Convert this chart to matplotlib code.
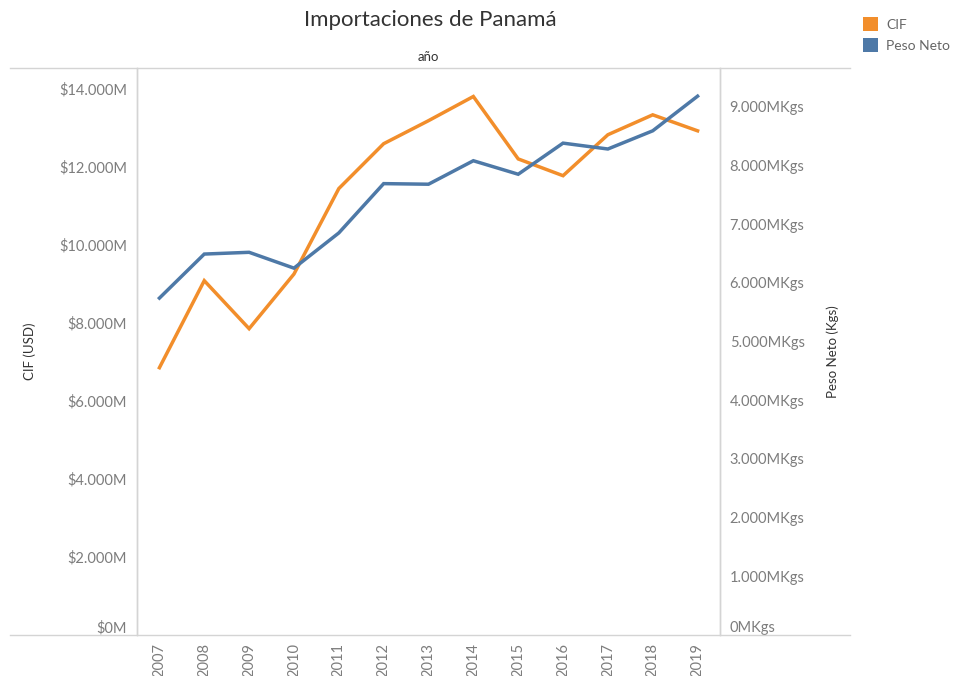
import matplotlib
matplotlib.use("Agg")
import matplotlib.pyplot as plt
from matplotlib.lines import Line2D
from matplotlib.patches import Patch
from matplotlib.ticker import FuncFormatter

plt.rcParams['font.family'] = ['Lato', 'DejaVu Sans']

years = [2007, 2008, 2009, 2010, 2011, 2012, 2013, 2014, 2015, 2016, 2017, 2018, 2019]
cif_musd = [6850, 9080, 7850, 9250, 11440, 12590, 13180, 13800, 12200, 11770, 12820, 13330, 12920]
peso_mkgs = [5740, 6490, 6520, 6250, 6850, 7690, 7680, 8080, 7850, 8380, 8280, 8590, 9180]
left_ticks = [0, 2000, 4000, 6000, 8000, 10000, 12000, 14000]
right_ticks = [0, 1000, 2000, 3000, 4000, 5000, 6000, 7000, 8000, 9000]

C_ORANGE = '#F28E2B'
C_BLUE = '#4E79A7'
GRID = '#d4d4d4'
TICK = '#7d7d7d'

W, H = 955, 676
fig = plt.figure(figsize=(W / 100, H / 100), dpi=100)
x0, x1, y_top, y_bot = 137, 720, 68, 635
ax = fig.add_axes([x0 / W, (H - y_bot) / H, (x1 - x0) / W, (y_bot - y_top) / H])
ax2 = ax.twinx()

ax.plot(years, cif_musd, color=C_ORANGE, lw=2.5, solid_joinstyle='miter', zorder=3)
ax2.plot(years, peso_mkgs, color=C_BLUE, lw=2.5, solid_joinstyle='miter', zorder=3)

ax.set_xlim(2006.5, 2019.5)
ax.set_ylim(0, 14530)
ax2.set_ylim(0, 9660)

ax.set_yticks(left_ticks)
ax2.set_yticks(right_ticks)
ax.yaxis.set_major_formatter(FuncFormatter(lambda v, p: '$0M' if v == 0 else '${:,.0f}M'.format(v).replace(',', '.')))
ax2.yaxis.set_major_formatter(FuncFormatter(lambda v, p: '0MKgs' if v == 0 else '{:,.0f}MKgs'.format(v).replace(',', '.')))
ax.set_xticks(years)
ax.set_xticklabels([str(y) for y in years], rotation=90, va='top', ha='center')

ax.tick_params(axis='y', length=0, pad=7, labelsize=10.5, labelcolor=TICK)
ax2.tick_params(axis='y', length=0, pad=7, labelsize=10.5, labelcolor=TICK)
ax.tick_params(axis='x', length=0, pad=6, labelsize=10.5, labelcolor=TICK)

fig.canvas.draw()
for lab in ax.get_yticklabels():
    if lab.get_text() == '$0M':
        lab.set_va('bottom')
for lab in ax2.get_yticklabels():
    if lab.get_text() == '0MKgs':
        lab.set_va('bottom')

for a in (ax, ax2):
    for s in ('top', 'bottom'):
        a.spines[s].set_visible(False)
    a.spines['left'].set_color(GRID)
    a.spines['right'].set_color(GRID)
    a.spines['left'].set_linewidth(1)
    a.spines['right'].set_linewidth(1)
    a.patch.set_visible(False)

# horizontal frame lines
fig.add_artist(Line2D([10 / W, 850 / W], [(H - y_top) / H] * 2, color=GRID, lw=1))
fig.add_artist(Line2D([10 / W, 850 / W], [(H - y_bot) / H] * 2, color=GRID, lw=1))

ax.set_ylabel('CIF (USD)', fontsize=9.5, color='#333333')
ax2.set_ylabel('Peso Neto (Kgs)', fontsize=9.5, color='#333333')
ax.yaxis.set_label_coords((36 - x0) / (x1 - x0), 0.5)
ax2.yaxis.set_label_coords((826 - x0) / (x1 - x0), 0.5)

fig.text(430 / W, 1 - 20 / H, 'Importaciones de Panamá', ha='center', va='center',
         fontsize=16, color='#333333')
fig.text(428 / W, 1 - 57 / H, 'año', ha='center', va='center', fontsize=9.5, color='#333333')

handles = [Patch(facecolor=C_ORANGE, edgecolor='none', label='CIF'),
           Patch(facecolor=C_BLUE, edgecolor='none', label='Peso Neto')]
leg = fig.legend(handles=handles, loc='upper left', bbox_to_anchor=(863 / W, 1 - 17 / H),
                 frameon=False, fontsize=10, handlelength=1.1, handleheight=1.2,
                 handletextpad=0.55, labelspacing=0.5, borderaxespad=0, borderpad=0)
for t in leg.get_texts():
    t.set_color('#666666')

fig.savefig('out.png', dpi=100)
